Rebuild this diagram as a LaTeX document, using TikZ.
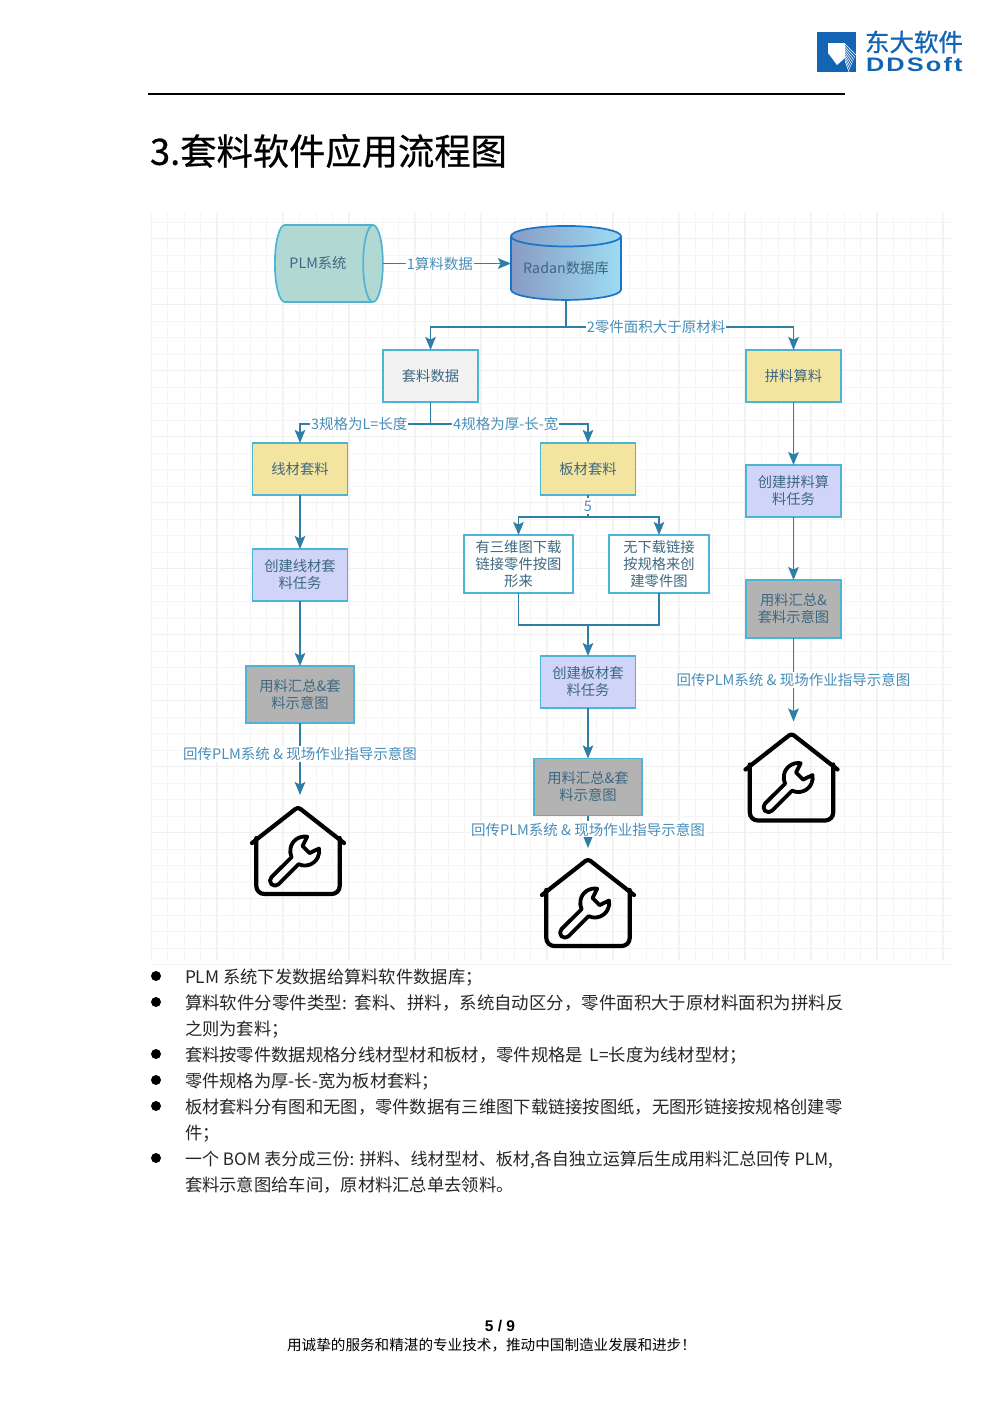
\documentclass[tikz,border=0pt]{standalone}
\usepackage{fontspec}
\setmainfont{Noto Sans CJK SC}
\newfontfamily\arialfont{Liberation Sans}
\usepackage{tikz}
\usetikzlibrary{arrows.meta,shapes.geometric}
\definecolor{edgecolor}{RGB}{46,126,166}
\definecolor{labelcolor}{RGB}{72,142,184}
\definecolor{boxline}{RGB}{78,180,214}
\definecolor{boxtext}{RGB}{62,104,128}
\definecolor{gridcolor}{RGB}{245,245,245}
\definecolor{gridmajor}{RGB}{240,240,240}
\definecolor{logocolor}{RGB}{20,100,180}
\definecolor{mintcolor}{RGB}{178,216,212}
\definecolor{yellowcolor}{RGB}{243,228,160}
\definecolor{lilaccolor}{RGB}{207,212,248}
\definecolor{greycolor}{RGB}{179,179,179}
\definecolor{palecolor}{RGB}{242,242,242}
\definecolor{radanleft}{RGB}{136,155,196}
\definecolor{radanright}{RGB}{157,220,242}
\definecolor{radanline}{RGB}{26,116,200}
\newcommand{\fs}[2]{\fontsize{#1}{#2}\selectfont}
\newcommand{\zhcomma}{\char"FF0C }
\newcommand{\zhsemi}{\char"FF1B }
\newcommand{\zhbang}{\char"FF01 }
\tikzset{
   pics/toolhouse/.style={code={
      \draw[black,line width=4.2pt,line cap=round,line join=round,rounded corners=3pt,x=1pt,y=1pt]
         (-46,8) -- (0,44) -- (46,8);
      \draw[black,line width=4.2pt,line cap=round,rounded corners=8pt,x=1pt,y=1pt]
         (-41.7,13) -- (-41.7,-43) -- (41.7,-43) -- (41.7,13);
      \draw[black,line width=3.8pt,line join=round,x=1pt,y=1pt,shift={(6.7pt,0pt)},rotate=45]
         (11.9,8.3) arc (35:160:14.5) -- (-42,5) arc (90:270:5) -- (-13.6,-5)
         arc (200:325:14.5) -- (2,-5) -- (2,5) -- cycle;
   }}
}
\begin{document}
\begin{tikzpicture}[x=1pt,y=-1pt,>={Stealth[length=13pt,width=10.5pt,inset=2.5pt]},line width=1.5pt]
 \tikzstyle{every node}=[inner sep=0pt,outer sep=0pt]
 \tikzstyle{flowbox}=[draw=boxline,line width=1.7pt,text=boxtext,align=center,minimum width=95pt,minimum height=52pt,font=\fs{14.3}{17}]
 \tikzstyle{pale}=[flowbox,fill=palecolor]
 \tikzstyle{yellow box}=[flowbox,fill=yellowcolor]
 \tikzstyle{task}=[flowbox,fill=lilaccolor]
 \tikzstyle{summary}=[flowbox,fill=greycolor,minimum width=108pt,minimum height=57pt]
 \tikzstyle{option}=[flowbox,fill=white,minimum height=58pt]
 \tikzstyle{iconbox}=[minimum width=100pt,minimum height=112pt]
 \tikzstyle{flowlabel}=[fill=white,text=labelcolor,font=\fs{14.5}{16},inner xsep=1pt,minimum height=16pt]
 \tikzstyle{flowedge}=[edgecolor,line width=1.8pt]
 \tikzstyle{bodyline}=[anchor=west,font=\fs{17.3}{20},text=black!85,text height=15pt,text depth=5pt]

   \path[use as bounding box] (0,0) rectangle (992,1403);

   % background grid
   \foreach \gx in {0,...,48}
      \draw[gridcolor,line width=.7pt] (151+16.5*\gx,213) -- (151+16.5*\gx,960);
   \foreach \gy in {0,...,45}
      \draw[gridcolor,line width=.7pt] (150,222+16.5*\gy) -- (953,222+16.5*\gy);
   \foreach \gx in {1,...,12}
      \draw[gridmajor,line width=.9pt] (150+66*\gx,213) -- (150+66*\gx,960);
   \foreach \gy in {0,...,10}
      \draw[gridmajor,line width=.9pt] (150,238+66*\gy) -- (953,238+66*\gy);

   % page head
   \fill[logocolor] (817,32) rectangle (856,72);
   \fill[white] (828,43) -- (845,43) -- (845,58) -- (837,65) -- (828,53) -- cycle;
   \foreach \i in {0,...,7}
      \draw[white,line width=.6pt] (845,44+2.4*\i) -- (856-\i,55+2.4*\i);
   \node[text=logocolor,anchor=west,font=\fs{24.5}{26}] (logoname) at (865,42) {\addfontfeature{FakeBold=1}东大软件};
   \node[text=logocolor,anchor=west,font=\arialfont\bfseries\fs{19.5}{20}] (logolatin) at (866,65) {\addfontfeature{FakeStretch=1.3,LetterSpace=11}DDSoft};
   \coordinate (ruleleft) at (148,94);
   \coordinate (ruleright) at (845,94);
   \draw[black,line width=1.6pt] (ruleleft) -- (ruleright);
   \node[anchor=west,text=black,font=\fs{36.3}{40}] (title) at (150,151) {\addfontfeature{FakeBold=.6}3.套料软件应用流程图};

   % flow nodes
   \node[cylinder,shape border rotate=0,aspect=1.5,draw=boxline,line width=1.7pt,fill=mintcolor,text=boxtext,
      minimum width=77pt,minimum height=108pt,font=\fs{14.3}{17}] (plm) at (323.5,263.5) {\hspace*{-11pt}PLM系统};
   \node[cylinder,shape border rotate=90,aspect=.24,draw=radanline,line width=1.7pt,left color=radanleft,right color=radanright,
      text=boxtext,minimum width=110pt,minimum height=74pt,font=\fs{14.3}{17}] (radan) at (566,268.5) {Radan数据库};

   \node[pale] (nestdata) at (430.5,376) {套料数据};
   \node[yellow box] (splice) [right of=nestdata,node distance=363pt] {拼料算料};
   \node[yellow box] (wire) at (300,469) {线材套料};
   \node[yellow box] (plate) [right of=wire,node distance=288pt] {板材套料};

   \node[task] (wiretask) [below of=wire,node distance=106pt] {创建线材套\\料任务};
   \node[summary] (wiresum) [below of=wiretask,node distance=119.5pt] {用料汇总\&套\\料示意图};
   \node[iconbox] (wirehome) [below of=wiresum,node distance=156.5pt] {};

   \node[option,minimum width=109pt] (has3d) at (518.5,564) {有三维图下载\\链接零件按图\\形来};
   \node[option,minimum width=100pt] (no3d) [right of=has3d,node distance=140.5pt] {无下载链接\\按规格来创\\建零件图};
   \node[task] (platetask) at (588,682) {创建板材套\\料任务};
   \node[summary] (platesum) [below of=platetask,node distance=105pt] {用料汇总\&套\\料示意图};
   \node[iconbox] (platehome) [below of=platesum,node distance=117pt] {};

   \node[task] (splicetask) [below of=splice,node distance=115pt] {创建拼料算\\料任务};
   \node[summary,minimum width=95pt,minimum height=58pt] (splicesum) [below of=splicetask,node distance=118pt] {用料汇总\&\\套料示意图};
   \node[iconbox] (splicehome) [below of=splicesum,node distance=168.5pt] {};

   \pic at ([xshift=-2pt]wirehome.center) {toolhouse};
   \pic at ([yshift=1pt]platehome.center) {toolhouse};
   \pic at ([xshift=-2pt]splicehome.center) {toolhouse};

   % branch points
   \coordinate (radanentry) at (radan.west |- plm.east);
   \coordinate (radanfork) at (566,327);
   \coordinate (nestfork) at (430.5,424);
   \coordinate (platefork) at (588,517);
   \coordinate (mergepoint) at (588,625);

   % connectors
   \path[flowedge]
    (plm.east) edge[->] node[flowlabel,pos=.445] {1算料数据} (radanentry)
    (radan.south) edge (radanfork)
    (nestdata.south) edge (nestfork)
    (plate.south) edge node[flowlabel,pos=.5] {5} (platefork)
    (wire) edge[->] (wiretask)
    (wiretask) edge[->] (wiresum)
    (wiresum) edge[->] node[flowlabel,pos=.43] {回传PLM系统 \& 现场作业指导示意图} (wirehome)
    (splice) edge[->] (splicetask)
    (splicetask) edge[->] (splicesum)
    (splicesum) edge[->] node[flowlabel,pos=.5] {回传PLM系统 \& 现场作业指导示意图} (splicehome)
    (mergepoint) edge[->] (platetask)
    (platetask) edge[->] (platesum)
    (platesum) edge[->] node[flowlabel,pos=.43] {回传PLM系统 \& 现场作业指导示意图} (platehome);
   \draw[flowedge,->] (radanfork) -| (nestdata.north);
   \draw[flowedge,->] (radanfork) -| node[flowlabel,pos=.198] {2零件面积大于原材料} (splice.north);
   \draw[flowedge,->] (nestfork) -| node[flowlabel,pos=.273] {3规格为L=长度} (wire.north);
   \draw[flowedge,->] (nestfork) -| node[flowlabel,pos=.239] {4规格为厚-长-宽} (plate.north);
   \draw[flowedge,->] (platefork) -| (has3d.north);
   \draw[flowedge,->] (platefork) -| (no3d.north);
   \draw[flowedge] (has3d.south) |- (mergepoint);
   \draw[flowedge] (no3d.south) |- (mergepoint);

   % list below the flow
   \foreach \by in {976,1002,1054,1080,1106,1158}
      \fill[black] (156,\by) circle (5pt);
   \node[bodyline] (line1) at (185,978) {PLM 系统下发数据给算料软件数据库\zhsemi};
   \node[bodyline,font=\fs{17.45}{20}] (line2) at (185,1004) {算料软件分零件类型:\hspace{8pt}套料、拼料\zhcomma 系统自动区分\zhcomma 零件面积大于原材料面积为拼料反};
   \node[bodyline] (line3) at (185,1030) {之则为套料\zhsemi};
   \node[bodyline] (line4) at (185,1056) {套料按零件数据规格分线材型材和板材\zhcomma 零件规格是 \hspace{3pt}L=长度为线材型材\zhsemi};
   \node[bodyline] (line5) at (185,1082) {零件规格为厚-长-宽为板材套料\zhsemi};
   \node[bodyline] (line6) at (185,1108) {板材套料分有图和无图\zhcomma 零件数据有三维图下载链接按图纸\zhcomma 无图形链接按规格创建零};
   \node[bodyline] (line7) at (185,1134) {件\zhsemi};
   \node[bodyline,font=\fs{17.05}{20}] (line8) at (185,1160) {一个 BOM 表分成三份: 拼料、线材型材、板材\char"002C 各自独立运算后生成用料汇总回传 PLM\char"002C};
   \node[bodyline] (line9) at (185,1186) {套料示意图给车间\zhcomma 原材料汇总单去领料。};

   % page foot
   \node[text=black,font=\arialfont\bfseries\fs{15.5}{16}] (pageno) at (500,1326) {5 / 9};
   \node[text=black,font=\fs{14.6}{16}] (slogan) at (491.5,1345) {用诚挚的服务和精湛的专业技术\zhcomma 推动中国制造业发展和进步\zhbang};
\end{tikzpicture}
\end{document}
